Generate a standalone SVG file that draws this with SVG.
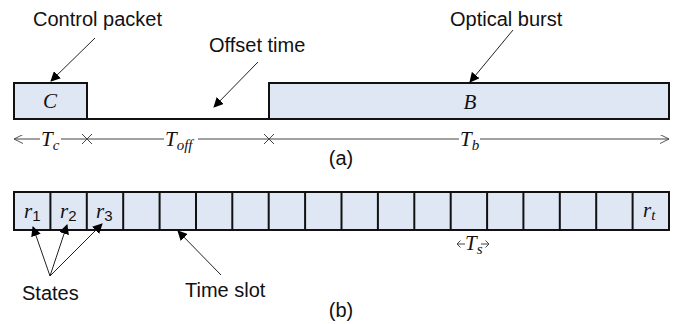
<svg xmlns="http://www.w3.org/2000/svg" width="679" height="324" viewBox="0 0 679 324">
<defs>
<marker id="ah" viewBox="0 0 10 10" refX="9" refY="5" markerWidth="10" markerHeight="10" markerUnits="userSpaceOnUse" orient="auto">
<path d="M0,0 L10,5 L0,10 Z" fill="#000"/>
</marker>
<marker id="oa" viewBox="0 0 10 10" refX="10" refY="5" markerWidth="9" markerHeight="9" markerUnits="userSpaceOnUse" orient="auto">
<path d="M0,0 L10,5 L0,10" fill="none" stroke="#444" stroke-width="1"/>
</marker>
</defs>
<style>
.box{fill:#dfe7f4;stroke:#111;stroke-width:2}
.lbl{font-family:"Liberation Sans",Arial,sans-serif;font-size:20px;fill:#111}
.mi{font-family:"Liberation Serif","Times New Roman",serif;font-style:italic;font-size:21px;fill:#111}
.sub{font-family:"Liberation Serif","Times New Roman",serif;font-style:italic;font-size:15px}
.subn{font-family:"Liberation Sans",Arial,sans-serif;font-style:normal;font-size:15px}
.dim{stroke:#444;stroke-width:1;fill:none}
.call{stroke:#222;stroke-width:1;fill:none}
</style>

<g id="C">
<rect class="box" x="14" y="83" width="73" height="36"/>
<text class="mi" x="50" y="108" text-anchor="middle">C</text>
</g>
<g id="offset-line">
<line x1="87" y1="119" x2="269" y2="119" stroke="#111" stroke-width="2"/>
</g>
<g id="B">
<rect class="box" x="269" y="83" width="400" height="36"/>
<text class="mi" x="470" y="109" text-anchor="middle">B</text>
</g>

<g id="labels-a">
<text class="lbl" x="33" y="26">Control packet</text>
<text class="lbl" x="209" y="52">Offset time</text>
<text class="lbl" x="450" y="26">Optical burst</text>
<text class="lbl" x="341" y="165" text-anchor="middle">(a)</text>
</g>

<g id="dimension-a">
<line class="dim" x1="40" y1="139" x2="14" y2="139" marker-end="url(#oa)"/>
<line class="dim" x1="61" y1="139" x2="164" y2="139"/>
<line class="dim" x1="198" y1="139" x2="459" y2="139"/>
<line class="dim" x1="480" y1="139" x2="669" y2="139" marker-end="url(#oa)"/>
<path class="dim" d="M82,134 L92,144 M92,134 L82,144 M264,134 L274,144 M274,134 L264,144"/>
<text class="mi" x="41" y="146">T<tspan class="sub" dy="4">c</tspan></text>
<text class="mi" x="165" y="146">T<tspan class="sub" dy="4">off</tspan></text>
<text class="mi" x="460" y="146">T<tspan class="sub" dy="4">b</tspan></text>
</g>

<g id="slots">
<rect class="box" x="14" y="192" width="655" height="38"/>
<path stroke="#111" stroke-width="2" d="M50.4,192V230 M86.8,192V230 M123.2,192V230 M159.6,192V230 M196,192V230 M232.3,192V230 M268.7,192V230 M305.1,192V230 M341.5,192V230 M377.9,192V230 M414.3,192V230 M450.7,192V230 M487.1,192V230 M523.4,192V230 M559.8,192V230 M596.2,192V230 M632.6,192V230"/>
<text class="mi" x="24" y="218">r<tspan class="subn" dy="3">1</tspan></text>
<text class="mi" x="60" y="218">r<tspan class="subn" dy="3">2</tspan></text>
<text class="mi" x="96" y="218">r<tspan class="subn" dy="3">3</tspan></text>
<text class="mi" x="643" y="217">r<tspan class="sub" dy="3">t</tspan></text>
</g>

<g id="Ts">
<path class="dim" d="M465,244 H457 M460.5,240.5 L457,244 L460.5,247.5 M481,244 H489 M485.5,240.5 L489,244 L485.5,247.5"/>
<text class="mi" x="465" y="250">T<tspan class="sub" dy="4">s</tspan></text>
</g>

<g id="labels-b">
<text class="lbl" x="22" y="300">States</text>
<text class="lbl" x="185" y="297">Time slot</text>
<text class="lbl" x="341" y="317" text-anchor="middle">(b)</text>
</g>

<g id="connectors">
<line class="call" x1="95" y1="38" x2="51" y2="81" marker-end="url(#ah)"/>
<line class="call" x1="258" y1="62" x2="214" y2="107" marker-end="url(#ah)"/>
<line class="call" x1="513" y1="30" x2="470" y2="82" marker-end="url(#ah)"/>
<line class="call" x1="50" y1="276" x2="33" y2="227" marker-end="url(#ah)"/>
<line class="call" x1="50" y1="276" x2="67" y2="225" marker-end="url(#ah)"/>
<line class="call" x1="50" y1="276" x2="102" y2="224" marker-end="url(#ah)"/>
<line class="call" x1="221" y1="275" x2="178" y2="231" marker-end="url(#ah)"/>
</g>
</svg>
